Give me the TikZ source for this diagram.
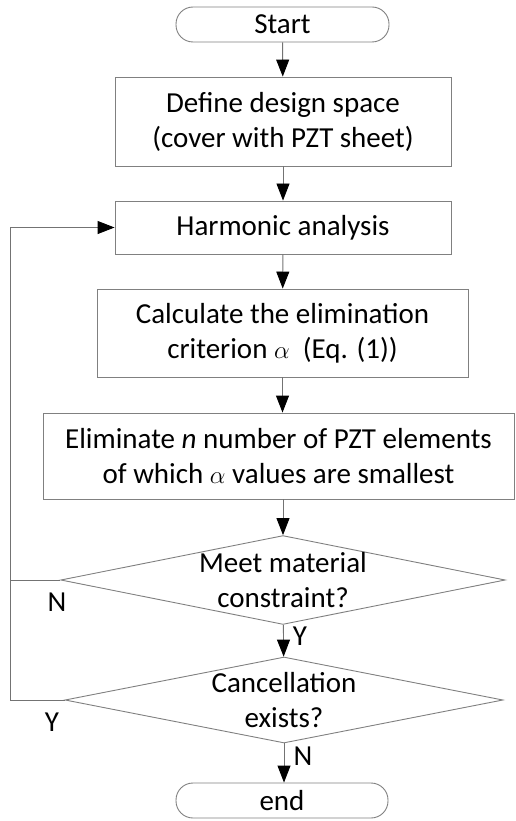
\documentclass[tikz,border=0pt]{standalone}
\usepackage{fontspec}
\setmainfont{Carlito}
\usetikzlibrary{shapes.geometric,arrows.meta}
\begin{document}
\begin{tikzpicture}[x=1pt,y=-1pt,
  every node/.style={font=\fontsize{29}{35}\selectfont, text=black},
  outline/.style={draw=black!50, line width=0.9pt},
  procbox/.style={outline, rectangle, inner sep=0pt, align=center},
  termbox/.style={outline, rectangle, rounded corners=17pt, inner sep=0pt,
    minimum width=213pt, minimum height=35pt},
  decide/.style={outline, diamond, shape aspect=5, inner sep=0pt, align=center},
  flow/.style={draw=black!55, line width=0.9pt,
    -{Triangle[length=17pt,width=13pt,color=black,fill=black]}},
  link/.style={draw=black!55, line width=0.9pt},
  tag/.style={inner sep=0pt}
]
\useasboundingbox (0,0) rectangle (515,821);

\node[termbox] (start) at (282.5,24.5) {Start};
\node[procbox, minimum width=336pt, minimum height=89pt] (define) at (283,121.5)
  {Define design space\\(cover with PZT sheet)};
\node[procbox, minimum width=336pt, minimum height=53pt] (harm) at (283,227.5)
  {Harmonic analysis};
\node[procbox, minimum width=371pt, minimum height=88pt] (calc) at (282.5,333)
  {Calculate the elimination\\criterion $\alpha$~ (Eq. (1))};
\node[procbox, minimum width=471pt, minimum height=86pt] (elim) at (278.5,456)
  {Eliminate \textit{n} number of PZT elements\\of which $\alpha$ values are smallest};
\node[decide, minimum width=440pt, minimum height=88pt] (mat) at (283,580)
  {Meet material\\constraint?};
\node[decide, minimum width=438pt, minimum height=86pt] (canc) at (284,700)
  {Cancellation\\exists?};
\node[termbox, minimum width=212pt] (end) at (282,800.5) {end};

\draw[flow] (start) -- (define);
\draw[flow] (define) -- (harm);
\draw[flow] (harm) -- (calc);
\draw[flow] (calc) -- (elim.north -| calc.south);
\draw[flow] (elim.south -| mat.north) -- (mat);
\draw[flow] (mat) -- (canc);
\draw[flow] (canc.south) -- (end.north -| canc.south);

% return paths to the harmonic analysis
\coordinate (loopA) at (10,580);
\coordinate (loopB) at (10,700);
\draw[link] (mat.west) -- (loopA);
\draw[flow] (canc.west) -- (loopB) |- (harm.west);

\node[tag] (nA) at (57,602) {N};
\node[tag] (yA) at (300,636) {Y};
\node[tag] (yB) at (52,722) {Y};
\node[tag] (nB) at (303,756) {N};
\end{tikzpicture}
\end{document}
